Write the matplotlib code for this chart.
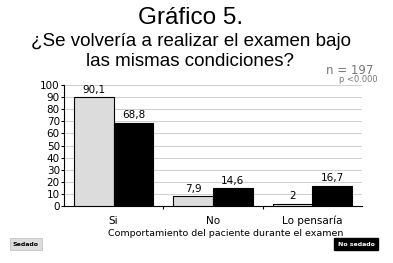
import numpy as np
import matplotlib.pyplot as plt

categories = ["Si", "No", "Lo pensaría"]
sedado = [90.1, 7.9, 2]
no_sedado = [68.8, 14.6, 16.7]
sedado_labels = ["90,1", "7,9", "2"]
no_sedado_labels = ["68,8", "14,6", "16,7"]
yticks = list(range(0, 101, 10))

W, H = 393, 263
fig = plt.figure(figsize=(W / 100, H / 100), dpi=100)
fig.patch.set_facecolor("white")

# axes placed in pixel coords
left, right, top, bottom = 64, 362, 85, 206
ax = fig.add_axes([left / W, 1 - bottom / H, (right - left) / W, (bottom - top) / H])

x = np.arange(len(categories))
bw = 0.4
ax.bar(x - bw / 2, sedado, bw, color="#dcdcdc", edgecolor="black", linewidth=0.8, zorder=3)
ax.bar(x + bw / 2, no_sedado, bw, color="black", edgecolor="black", linewidth=0.8, zorder=3)

for xi, v, s in zip(x, sedado, sedado_labels):
    ax.text(xi - bw / 2, v + 2, s, ha="center", va="bottom", fontsize=7.5)
for xi, v, s in zip(x, no_sedado, no_sedado_labels):
    ax.text(xi + bw / 2, v + 2, s, ha="center", va="bottom", fontsize=7.5)

ax.set_xlim(-0.5, len(categories) - 0.5)
ax.set_ylim(0, 100)
ax.set_yticks(yticks)
ax.set_yticklabels([str(t) for t in yticks], fontsize=7.5)
ax.set_xticks([0.5, 1.5])
ax.set_xticklabels([])
ax.tick_params(axis="x", length=2.5, direction="out")
ax.tick_params(axis="y", length=2, pad=1)
for xi, c in zip(x, categories):
    ax.text(xi, -8, c, ha="center", va="top", fontsize=7.5)
ax.yaxis.grid(True, color="#c8c8c8", linewidth=0.6, zorder=0)
ax.spines["top"].set_visible(False)
ax.spines["right"].set_visible(False)
ax.spines["left"].set_linewidth(0.8)
ax.spines["bottom"].set_linewidth(0.8)

fig.text(226 / W, 1 - 234 / H, "Comportamiento del paciente durante el examen",
         ha="center", va="center", fontsize=6.8)

# titles
fig.text(191 / W, 1 - 18 / H, "Gráfico 5.", ha="center", va="center",
         fontsize=17.5, family="Liberation Sans")
fig.text(191 / W, 1 - 42 / H, "¿Se volvería a realizar el examen bajo", ha="center",
         va="center", fontsize=13.5, family="Liberation Sans")
fig.text(190 / W, 1 - 62 / H, "las mismas condiciones?", ha="center", va="center",
         fontsize=13.5, family="Liberation Sans")
fig.text(350 / W, 1 - 70 / H, "n = 197", ha="center", va="center", fontsize=8.5,
         color="#777777")
fig.text(358 / W, 1 - 80 / H, "p <0.000", ha="center", va="center", fontsize=6,
         color="#777777")

# legend boxes
fig.text(26 / W, 1 - 244 / H, "Sedado", ha="center", va="center", fontsize=4.5,
         fontweight="bold", bbox=dict(boxstyle="square,pad=0.5", fc="#dddddd", ec="#bbbbbb", lw=0.5))
fig.text(356 / W, 1 - 244 / H, "No sedado", ha="center", va="center", fontsize=4.5,
         fontweight="bold", color="white", bbox=dict(boxstyle="square,pad=0.5", fc="black", ec="black"))

fig.savefig("out.png", dpi=100)
